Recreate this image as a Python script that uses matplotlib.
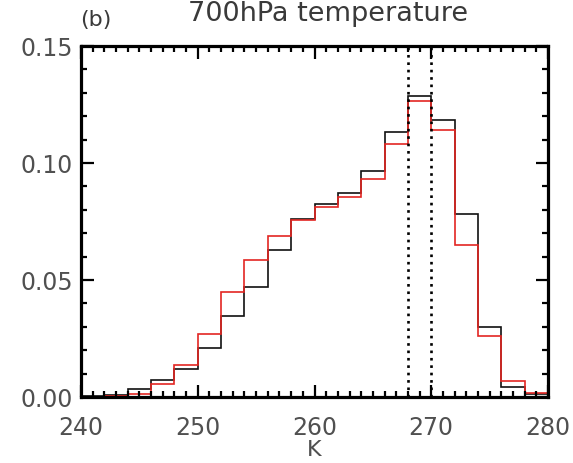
import matplotlib
matplotlib.use("Agg")
import matplotlib.pyplot as plt
from matplotlib.ticker import MultipleLocator, FormatStrFormatter

bin_edges = list(range(240, 282, 2))
black_vals = [0.0003, 0.0010, 0.0033, 0.0073, 0.0120, 0.0209, 0.0347, 0.0469, 0.0627, 0.0761,
              0.0826, 0.0873, 0.0966, 0.1134, 0.1287, 0.1184, 0.0780, 0.0299, 0.0044, 0.0013]
red_vals = [0.0002, 0.0005, 0.0012, 0.0054, 0.0137, 0.0271, 0.0449, 0.0586, 0.0686, 0.0758,
            0.0814, 0.0856, 0.0933, 0.1080, 0.1266, 0.1141, 0.0651, 0.0261, 0.0069, 0.0018]
vlines_x = [268, 270]
title = "700hPa temperature"
panel = "(b)"
xlabel = "K"

fig = plt.figure(figsize=(5.73, 4.64), dpi=100)
ax = fig.add_axes([81/573, 1-398/464, 467/573, 351/464])

ax.stairs(black_vals, bin_edges, baseline=None, color="#111111", lw=1.2)
ax.stairs(red_vals, bin_edges, baseline=None, color="#e32622", lw=1.2)
for xv in vlines_x:
    ax.axvline(xv, color="black", ls=(0, (1, 1.8)), lw=1.9)

ax.set_xlim(240, 280)
ax.set_ylim(0, 0.15)
ax.xaxis.set_major_locator(MultipleLocator(10))
ax.xaxis.set_minor_locator(MultipleLocator(1))
ax.yaxis.set_major_locator(MultipleLocator(0.05))
ax.yaxis.set_minor_locator(MultipleLocator(0.01))
ax.yaxis.set_major_formatter(FormatStrFormatter("%.2f"))
ax.tick_params(which="both", direction="in", top=True, right=True, width=1.6, colors="black",
               labelcolor="#505050", labelsize=17)
ax.tick_params(which="major", length=9)
ax.tick_params(which="minor", length=4.5)
ax.tick_params(axis="x", which="major", pad=13)
ax.tick_params(axis="y", which="major", pad=6)
for s in ax.spines.values():
    s.set_linewidth(2.3)

ax.set_xlabel(xlabel, fontsize=16, color="#505050", labelpad=0)
fig.text(328/573, 1-14/464, title, ha="center", va="center", fontsize=19.5, color="#3a3a3a")
fig.text(80/573, 1-20/464, panel, ha="left", va="center", fontsize=16, color="#3a3a3a")

fig.savefig("out.png", dpi=100)
